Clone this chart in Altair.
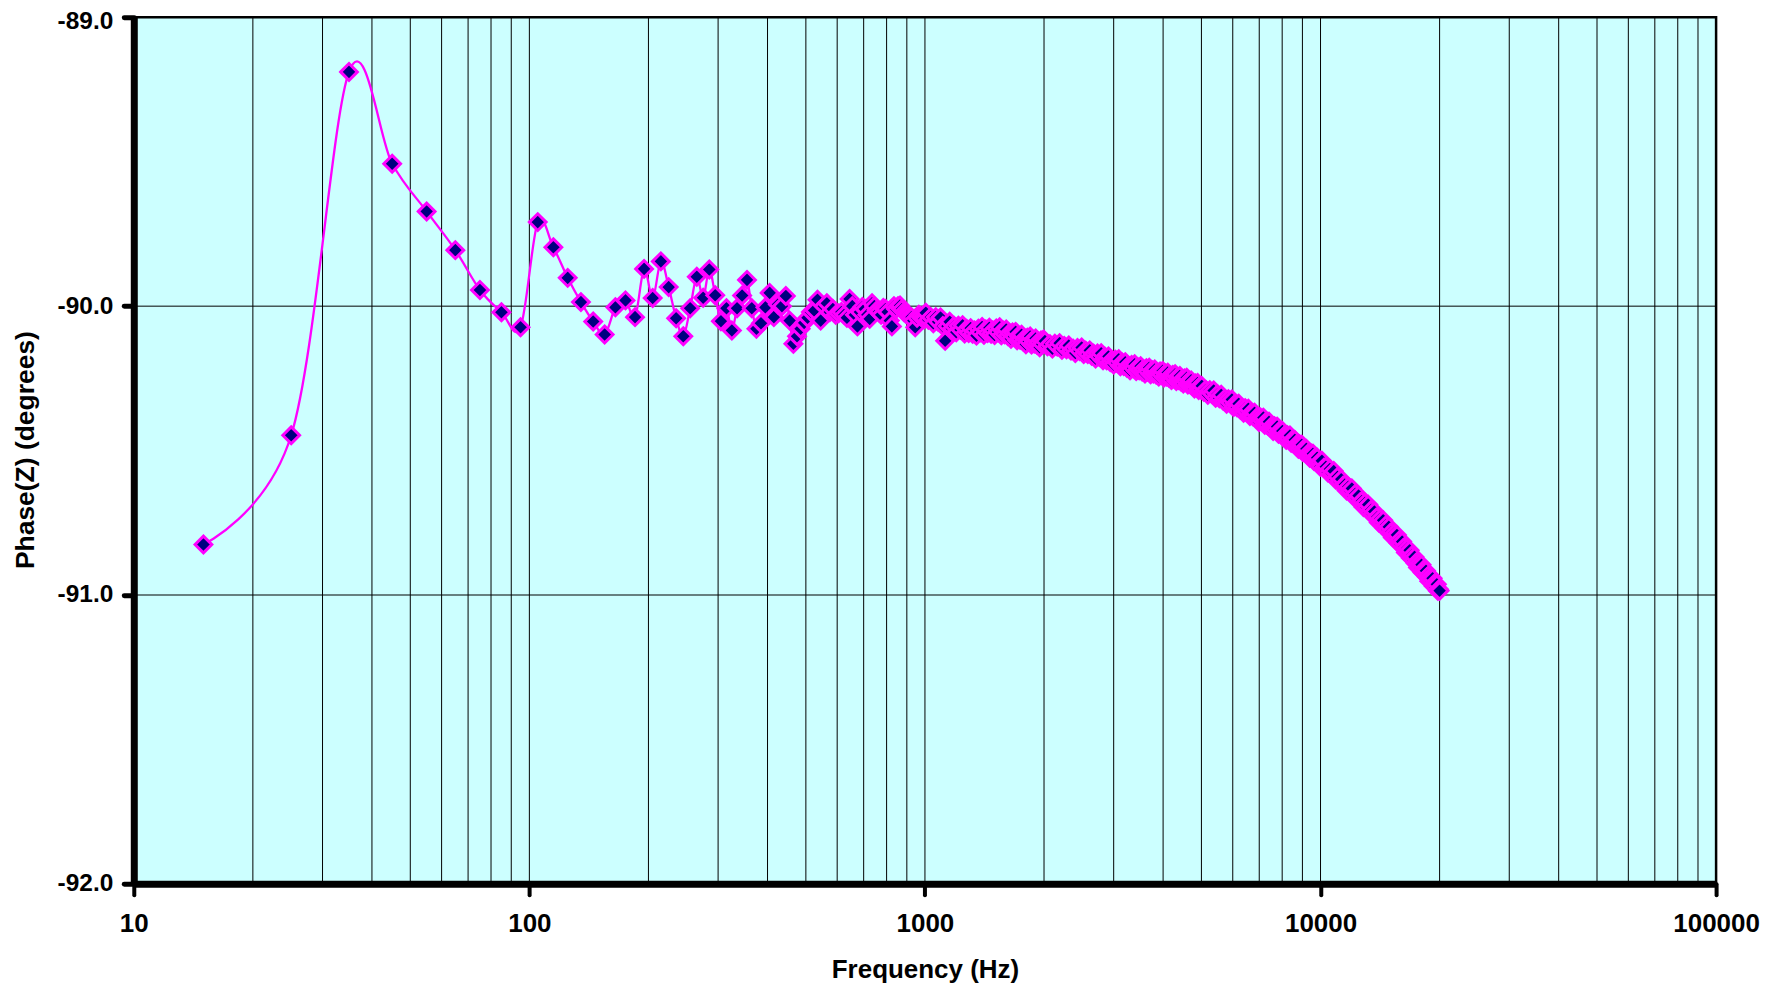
import altair as alt
import pandas as pd

# ---- data ----
freq_low = [15, 25, 35, 45, 55, 65, 75, 85, 95, 105, 115, 125, 135, 145, 155, 165, 175, 185, 195,
            205, 215, 225, 235, 245, 255, 265, 275, 285, 295, 305, 315, 325, 335, 345, 355, 365,
            375, 385, 395, 405, 415, 425, 435, 445, 455, 465, 475, 485, 495, 505]
phase_low = [-90.825, -90.447, -89.189, -89.507, -89.672, -89.806, -89.944, -90.021, -90.073,
             -89.709, -89.796, -89.902, -89.986, -90.053, -90.098, -90.004, -89.980, -90.038,
             -89.871, -89.972, -89.845, -89.934, -90.042, -90.104, -90.007, -89.898, -89.971,
             -89.873, -89.962, -90.052, -90.007, -90.084, -90.007, -89.963, -89.909, -90.007,
             -90.078, -90.059, -90.004, -89.954, -90.038, -89.994, -90.000, -89.965, -90.050,
             -90.130, -90.104, -90.078, -90.058, -90.040]

freq_mid = [515, 525, 535, 545, 555, 565, 575, 585, 595, 605, 615, 625, 635, 645, 655, 665, 675,
            685, 695, 705, 715, 725, 735, 745, 755, 765, 775, 785, 795, 805, 815, 825, 835, 845,
            855, 865, 875, 885, 895, 905, 915, 925, 935, 945, 955, 965, 975, 985, 995]
phase_mid = [-90.020, -90.015, -89.978, -90.050, -90.000, -89.990, -90.020, -90.010, -90.030,
             -90.025, -90.020, -90.030, -90.040, -89.975, -90.000, -90.030, -90.070, -90.020,
             -90.003, -90.010, -90.030, -90.044, -89.990, -90.000, -90.015, -90.020, -90.030,
             -90.006, -90.010, -90.020, -90.050, -90.070, -90.000, -90.010, -90.000, -89.998,
             -90.010, -90.020, -90.026, -90.030, -90.035, -90.038, -90.050, -90.073, -90.040,
             -90.030, -90.035, -90.040, -90.045]

freq_a = [1005, 1020, 1035, 1050, 1065, 1080, 1095, 1110, 1125, 1140,
          1155, 1170, 1185, 1200, 1215, 1230, 1245, 1260, 1275, 1290,
          1305, 1320, 1335, 1350, 1365, 1380, 1395, 1410, 1425, 1440,
          1455, 1470, 1485, 1500, 1515, 1530, 1545, 1560, 1575, 1590,
          1605, 1620, 1635, 1650, 1665, 1680, 1695, 1710, 1725, 1740,
          1755, 1770, 1785, 1800, 1815, 1830, 1845, 1860, 1875, 1890,
          1905, 1920, 1935, 1950, 1965, 1980, 1995]
phase_a = [-90.023, -90.047, -90.038, -90.059, -90.038, -90.054, -90.039, -90.069, -90.120, -90.069,
           -90.054, -90.078, -90.069, -90.090, -90.068, -90.082, -90.066, -90.095, -90.079, -90.093,
           -90.076, -90.096, -90.084, -90.102, -90.078, -90.090, -90.072, -90.099, -90.081, -90.093,
           -90.075, -90.096, -90.084, -90.100, -90.077, -90.090, -90.073, -90.101, -90.084, -90.097,
           -90.081, -90.103, -90.093, -90.113, -90.091, -90.105, -90.089, -90.118, -90.102, -90.116,
           -90.099, -90.122, -90.112, -90.132, -90.109, -90.122, -90.105, -90.133, -90.116, -90.129,
           -90.112, -90.134, -90.123, -90.142, -90.119, -90.132, -90.115]

freq_b = [2010, 2040, 2070, 2100, 2130, 2160, 2190, 2220, 2250, 2280,
          2310, 2340, 2370, 2400, 2430, 2460, 2490, 2520, 2550, 2580,
          2610, 2640, 2670, 2700, 2730, 2760, 2790, 2820, 2850, 2880,
          2910, 2940, 2970, 3000, 3030, 3060, 3090, 3120, 3150, 3180,
          3210, 3240, 3270, 3300, 3330, 3360, 3390, 3420, 3450, 3480,
          3510, 3540, 3570, 3600, 3630, 3660, 3690, 3720, 3750, 3780,
          3810, 3840, 3870, 3900, 3930, 3960, 3990, 4020, 4050, 4080,
          4110, 4140, 4170, 4200, 4230, 4260, 4290, 4320, 4350, 4380,
          4410, 4440, 4470, 4500, 4530, 4560, 4590, 4620, 4650, 4680,
          4710, 4740, 4770, 4800, 4830, 4860, 4890, 4920, 4950, 4980]
phase_b = [-90.121, -90.139, -90.132, -90.147, -90.130, -90.140, -90.128, -90.151, -90.138, -90.149,
           -90.136, -90.154, -90.147, -90.162, -90.145, -90.155, -90.143, -90.166, -90.154, -90.166,
           -90.153, -90.172, -90.165, -90.181, -90.164, -90.175, -90.163, -90.187, -90.175, -90.187,
           -90.174, -90.193, -90.186, -90.202, -90.185, -90.196, -90.184, -90.208, -90.195, -90.207,
           -90.194, -90.213, -90.206, -90.222, -90.204, -90.214, -90.201, -90.225, -90.211, -90.222,
           -90.208, -90.226, -90.218, -90.233, -90.215, -90.226, -90.213, -90.236, -90.222, -90.233,
           -90.219, -90.237, -90.229, -90.244, -90.226, -90.237, -90.224, -90.247, -90.233, -90.244,
           -90.230, -90.248, -90.241, -90.256, -90.238, -90.248, -90.236, -90.259, -90.245, -90.256,
           -90.242, -90.261, -90.253, -90.268, -90.250, -90.260, -90.248, -90.271, -90.258, -90.270,
           -90.257, -90.276, -90.269, -90.285, -90.268, -90.278, -90.266, -90.290, -90.277, -90.289]

freq_c = [5010, 5070, 5130, 5190, 5250, 5310, 5370, 5430, 5490, 5550,
          5610, 5670, 5730, 5790, 5850, 5910, 5970, 6030, 6090, 6150,
          6210, 6270, 6330, 6390, 6450, 6510, 6570, 6630, 6690, 6750,
          6810, 6870, 6930, 6990, 7050, 7110, 7170, 7230, 7290, 7350,
          7410, 7470, 7530, 7590, 7650, 7710, 7770, 7830, 7890, 7950,
          8010, 8070, 8130, 8190, 8250, 8310, 8370, 8430, 8490, 8550,
          8610, 8670, 8730, 8790, 8850, 8910, 8970, 9030, 9090, 9150,
          9210, 9270, 9330, 9390, 9450, 9510, 9570, 9630, 9690, 9750,
          9810, 9870, 9930, 9990]
phase_c = [-90.276, -90.296, -90.290, -90.307, -90.291, -90.303, -90.292, -90.317, -90.305, -90.319,
           -90.307, -90.327, -90.321, -90.338, -90.322, -90.334, -90.323, -90.349, -90.337, -90.350,
           -90.338, -90.358, -90.352, -90.369, -90.353, -90.366, -90.355, -90.380, -90.368, -90.381,
           -90.369, -90.389, -90.383, -90.401, -90.385, -90.397, -90.386, -90.411, -90.399, -90.412,
           -90.400, -90.420, -90.415, -90.432, -90.416, -90.428, -90.417, -90.442, -90.430, -90.443,
           -90.432, -90.452, -90.446, -90.463, -90.447, -90.459, -90.448, -90.473, -90.462, -90.475,
           -90.463, -90.483, -90.477, -90.494, -90.478, -90.490, -90.480, -90.505, -90.493, -90.506,
           -90.494, -90.514, -90.508, -90.525, -90.509, -90.522, -90.511, -90.536, -90.524, -90.537,
           -90.525, -90.545, -90.539, -90.556]

freq_d = [10080, 10200, 10320, 10440, 10560, 10680, 10800, 10920, 11040, 11160,
          11280, 11400, 11520, 11640, 11760, 11880, 12000, 12120, 12240, 12360,
          12480, 12600, 12720, 12840, 12960, 13080, 13200, 13320, 13440, 13560,
          13680, 13800, 13920, 14040, 14160, 14280, 14400, 14520, 14640, 14760,
          14880, 15000, 15120, 15240, 15360, 15480, 15600, 15720, 15840, 15960,
          16080, 16200, 16320, 16440, 16560, 16680, 16800, 16920, 17040, 17160,
          17280, 17400, 17520, 17640, 17760, 17880, 18000, 18120, 18240, 18360,
          18480, 18600, 18720, 18840, 18960, 19080, 19200, 19320, 19440, 19560,
          19680, 19800, 19920, 20000]
phase_d = [-90.535, -90.559, -90.556, -90.576, -90.564, -90.579, -90.571, -90.600, -90.591, -90.607,
           -90.599, -90.622, -90.618, -90.638, -90.625, -90.639, -90.631, -90.659, -90.650, -90.665,
           -90.656, -90.679, -90.675, -90.695, -90.681, -90.696, -90.687, -90.714, -90.705, -90.720,
           -90.711, -90.733, -90.730, -90.749, -90.736, -90.750, -90.741, -90.768, -90.758, -90.773,
           -90.764, -90.786, -90.782, -90.801, -90.787, -90.801, -90.792, -90.819, -90.810, -90.825,
           -90.815, -90.837, -90.834, -90.853, -90.839, -90.853, -90.845, -90.872, -90.862, -90.878,
           -90.868, -90.890, -90.886, -90.905, -90.891, -90.905, -90.895, -90.922, -90.912, -90.926,
           -90.916, -90.938, -90.933, -90.952, -90.938, -90.951, -90.942, -90.969, -90.959, -90.973,
           -90.963, -90.985, -90.980, -90.985]

x_ticks = [10, 100, 1000, 10000, 100000]
y_ticks = [-92.0, -91.0, -90.0, -89.0]
grid_x = [20, 30, 40, 50, 60, 70, 80, 90, 100, 200, 300, 400, 500, 600, 700, 800, 900, 1000,
          2000, 3000, 4000, 5000, 6000, 7000, 8000, 9000, 10000, 20000, 30000, 40000, 50000,
          60000, 70000, 80000, 90000]
grid_y = [-91.0, -90.0]

freq = freq_low + freq_mid + freq_a + freq_b + freq_c + freq_d
phase = phase_low + phase_mid + phase_a + phase_b + phase_c + phase_d
df = pd.DataFrame({"freq": freq, "phase": phase})

W, H = 1585, 868
FONT = "Liberation Sans"

x_scale = alt.Scale(type="log", domain=[10, 100000], nice=False)
y_scale = alt.Scale(domain=[-92, -89], nice=False, zero=False)

x_axis = alt.Axis(values=x_ticks, format="d", grid=False, title="Frequency (Hz)",
                  labelFont=FONT, labelFontSize=26, labelFontWeight="bold", labelColor="black",
                  labelPadding=16, labelFlush=False, labelOverlap=False,
                  tickSize=11, tickWidth=4, tickColor="black", tickCap="round",
                  domainWidth=7, domainColor="black",
                  titleFont=FONT, titleFontSize=26, titleFontWeight="bold", titleColor="black",
                  titleY=86, titleBaseline="middle", zindex=1)
y_axis = alt.Axis(values=y_ticks, grid=False, title="Phase(Z) (degrees)",
                  labelExpr="replace(format(datum.value, '.1f'), '\u2212', '-')",
                  labelFont=FONT, labelFontSize=24.5, labelFontWeight="bold", labelColor="black",
                  labelPadding=11, labelOverlap=False,
                  labelOffset={"condition": {"test": "datum.value == -89", "value": 4}, "value": 0},
                  tickSize=10, tickWidth=5, tickColor="black", tickCap="round",
                  domainWidth=7, domainColor="black",
                  titleFont=FONT, titleFontSize=26.5, titleFontWeight="bold", titleColor="black",
                  titleX=-108, titleY=433, titleAngle=270, titleBaseline="middle",
                  titleAlign="center", zindex=1)

gv = alt.Chart(pd.DataFrame({"g": grid_x})).mark_rule(color="black", strokeWidth=1).encode(
    x=alt.X("g:Q", scale=x_scale, axis=x_axis), y=alt.value(0), y2=alt.value(H))
gh = alt.Chart(pd.DataFrame({"h": grid_y})).mark_rule(color="black", strokeWidth=1).encode(
    y=alt.Y("h:Q", scale=y_scale, axis=y_axis), x=alt.value(0), x2=alt.value(W))

line = alt.Chart(df).mark_line(color="#FF00FF", strokeWidth=2.3, interpolate="cardinal").encode(
    x=alt.X("freq:Q", scale=x_scale, axis=x_axis),
    y=alt.Y("phase:Q", scale=y_scale, axis=y_axis))
pts = alt.Chart(df).mark_point(shape="diamond", filled=True, size=280, fill="#000080",
                               stroke="#FF00FF", strokeWidth=3, opacity=1).encode(
    x=alt.X("freq:Q", scale=x_scale, axis=x_axis),
    y=alt.Y("phase:Q", scale=y_scale, axis=y_axis))

chart = alt.layer(gv, gh, line, pts).properties(
    width=W, height=H,
    autosize=alt.AutoSizeParams(type="none"),
    padding={"left": 126, "top": 8.5, "right": 56, "bottom": 108},
    background="white",
).configure_view(fill="#CCFFFF", stroke="black", strokeWidth=2.5)

chart.save("out.html", embed_options={"renderer": "svg", "actions": False})
